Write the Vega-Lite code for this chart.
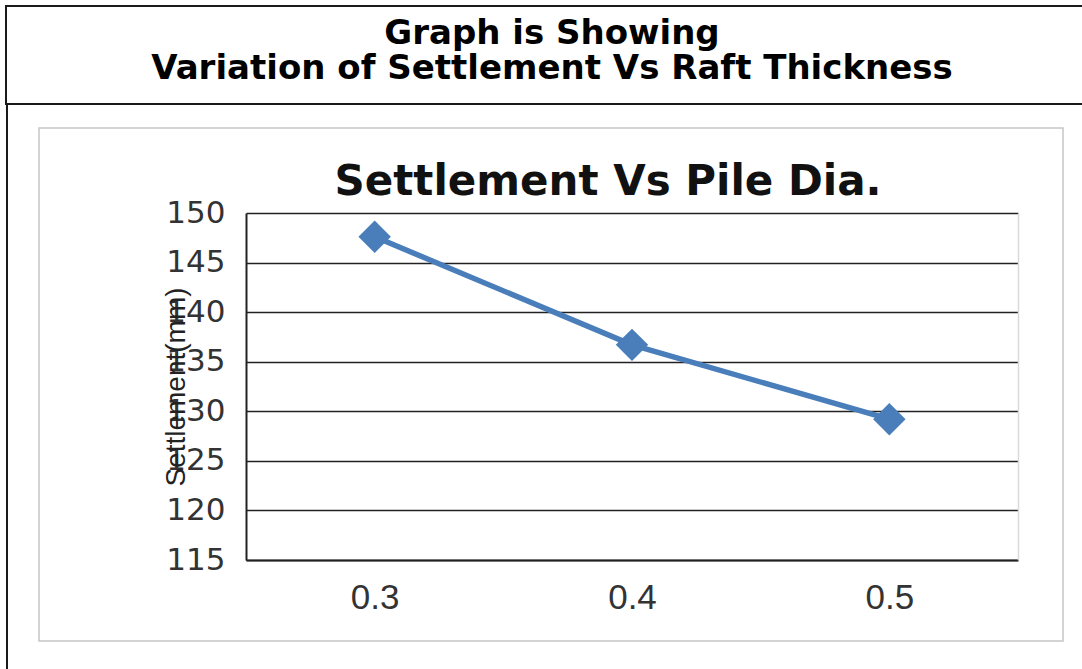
{
  "$schema": "https://vega.github.io/schema/vega-lite/v6.json",
  "padding": {"left": 5, "top": 5, "right": 0, "bottom": 0},
  "background": "white",
  "bounds": "flush",
  "spacing": 0,
  "config": {"view": {"stroke": null}, "font": "DejaVu Sans"},
  "data": {"values": [
    {"pile_dia": 0.3, "settlement": 147.6},
    {"pile_dia": 0.4, "settlement": 136.7},
    {"pile_dia": 0.5, "settlement": 129.2}
  ]},
  "vconcat": [
    {
      "width": 1080, "height": 98,
      "view": {"stroke": "#1a1a1a", "strokeWidth": 2},
      "data": {"values": [{}]},
      "mark": {"type": "text", "text": ["Graph is Showing", "Variation of Settlement Vs Raft Thickness"], "font": "DejaVu Sans", "fontWeight": "bold", "fontSize": 34, "lineHeight": 35, "align": "center", "baseline": "middle", "dx": 6, "dy": -21, "color": "#000"}
    },
    {
      "bounds": "flush",
      "spacing": 32,
      "hconcat": [
        {"width": 1, "height": 566, "view": {"stroke": "#1a1a1a", "strokeWidth": 1}, "data": {"values": [{}]}, "mark": {"type": "text", "text": ""}},
        {
          "bounds": "flush",
          "spacing": 23,
          "vconcat": [
            {"width": 1024, "height": 1, "data": {"values": [{}]}, "mark": {"type": "text", "text": ""}},
            {
              "width": 1024, "height": 513,
              "view": {"stroke": "#c6c6c6", "strokeWidth": 1.5},
              "title": {"text": "Settlement Vs Pile Dia.", "font": "DejaVu Sans", "fontSize": 42, "fontWeight": "bold", "color": "#111", "anchor": "middle", "frame": "group", "offset": -76, "dx": 57},
              "encoding": {
                "x": {"field": "pile_dia", "type": "quantitative",
                  "scale": {"domain": [0.25, 0.55], "range": [207, 979], "nice": false, "zero": false},
                  "axis": {"orient": "bottom", "offset": -81, "values": [0.3, 0.4, 0.5], "format": ".1f", "domain": true, "domainColor": "#222", "domainWidth": 2, "ticks": false, "grid": false, "labelFont": "Liberation Sans", "labelFontSize": 35, "labelColor": "#333", "labelPadding": 20, "title": null}},
                "y": {"field": "settlement", "type": "quantitative",
                  "scale": {"domain": [115, 150], "range": [432, 85], "nice": false, "zero": false},
                  "axis": {"orient": "left", "offset": -207, "values": [115, 120, 125, 130, 135, 140, 145, 150], "domain": true, "domainColor": "#222", "domainWidth": 2, "ticks": false, "grid": true, "gridColor": "#222", "gridWidth": 1.5, "labelFont": "DejaVu Sans", "labelFontSize": 31, "labelColor": "#333", "labelPadding": 21, "title": "Settlement(mm)", "titleFont": "Liberation Sans", "titleFontSize": 28, "titleFontWeight": "normal", "titleColor": "#222", "titleX": -70, "titleBaseline": "middle"}}
              },
              "layer": [
                {"mark": {"type": "line", "color": "#4A7EBB", "strokeWidth": 5.5}},
                {"mark": {"type": "point", "shape": "diamond", "filled": true, "size": 1050, "color": "#4A7EBB", "opacity": 1},
                 "encoding": {
                   "y": {"field": "settlement", "type": "quantitative",
                     "scale": {"domain": [115, 150], "range": [432, 85], "nice": false, "zero": false},
                     "axis": {"orient": "right", "offset": -45, "domain": true, "domainColor": "#d9d9d9", "domainWidth": 1.5, "labels": false, "ticks": false, "grid": false, "title": null}}
                 }}
              ],
              "resolve": {"axis": {"y": "independent"}}
            }
          ]
        }
      ]
    }
  ]
}
